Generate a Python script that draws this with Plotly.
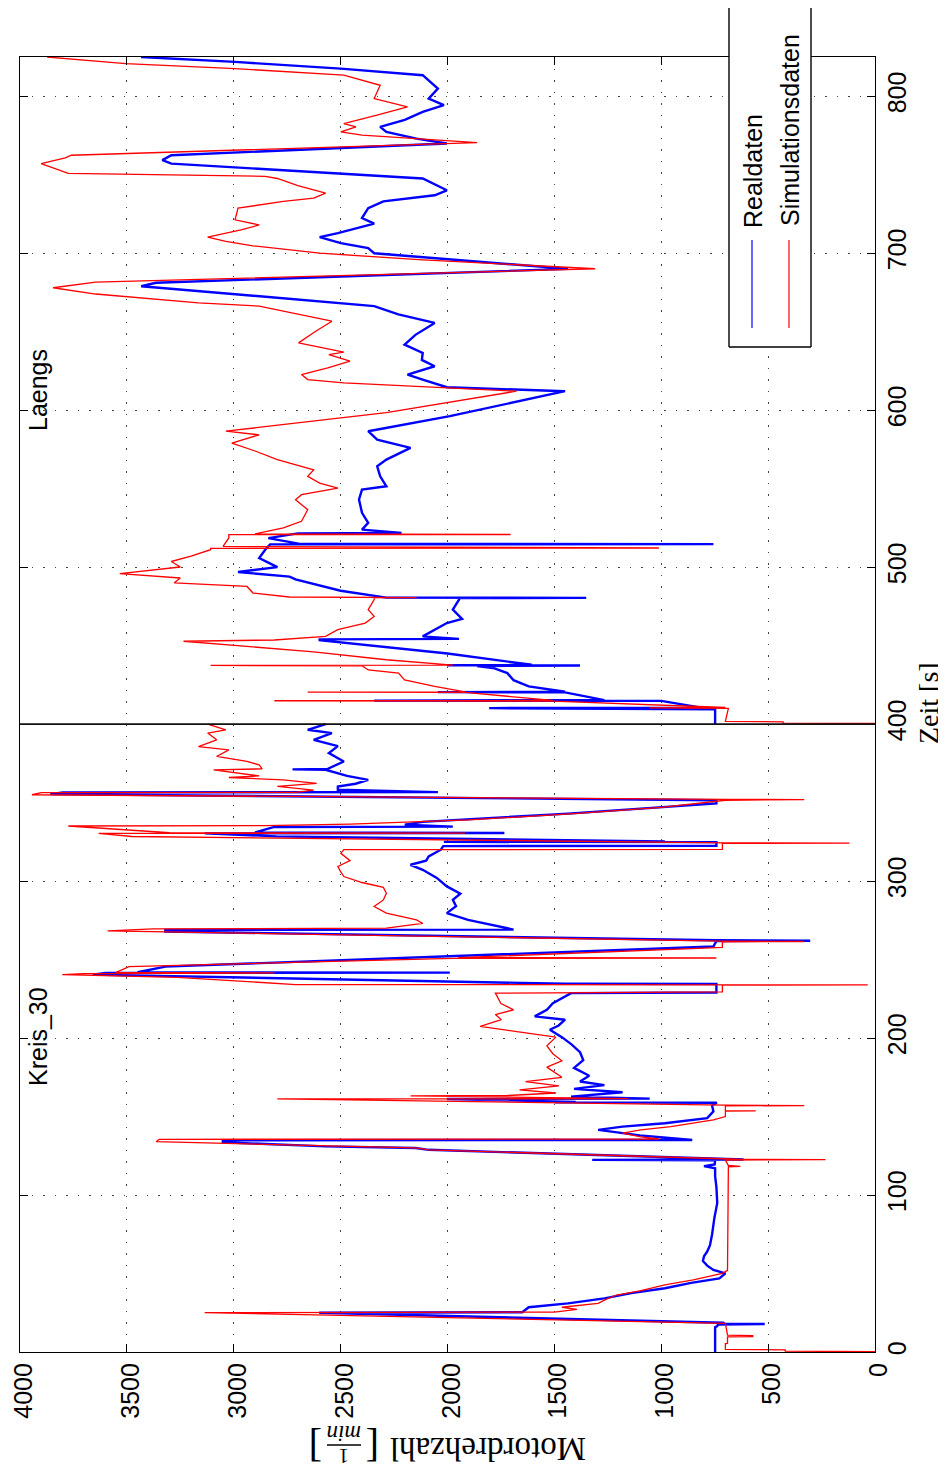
import plotly.graph_objects as go

# ---------------- data ----------------
rpm_ticks = [0, 500, 1000, 1500, 2000, 2500, 3000, 3500, 4000]
time_ticks = [0, 100, 200, 300, 400, 500, 600, 700, 800]

t_real = [0, 15.8, 16.5, 17.5, 17.8, 18.1, 18.6, 25.0, 25.3, 28.5, 31.0, 34.2, 37.5, 40.6, 44.0, 46.9, 50.1,
          52.3, 55.0, 58.0, 61.0, 64.0, 68.0, 75.0, 85.0, 95.0, 105.0, 112.0, 117.0, 118.4, 119.5, 122.2,
          122.4, 122.6, 128.8, 130.0, 131.0, 133.6, 134.9, 135.1, 138.0, 141.5, 143.6, 145.7, 149.0, 153.3,
          157.0, 158.8, 159.0, 159.3, 161.2, 161.4, 162.7, 165.5, 167.6, 170.0, 172.3, 176.0, 181.0, 186.0,
          191.0, 196.0, 200.6, 205.3, 208.0, 211.7, 213.8, 218.0, 222.2, 228.6, 229.0, 234.4, 234.6, 240.4,
          241.5, 241.7, 241.9, 245.5, 258.3, 261.8, 262.0, 262.3, 267.9, 268.9, 269.1, 275.3, 279.6, 284.0,
          288.1, 292.0, 296.6, 302.0, 307.2, 310.4, 313.0, 315.7, 320.0, 322.3, 322.5, 324.8, 325.0, 325.2,
          328.5, 330.4, 330.6, 331.0, 334.5, 334.7, 336.0, 337.7, 343.0, 349.5, 351.5, 355.4, 356.5, 356.7,
          358.2, 360.3, 362.0, 364.5, 367.0, 370.9, 371.2, 371.5, 376.2, 381.5, 386.0, 390.0, 394.3, 396.4,
          400.0,
          None,
          400.1, 409.5, 410.2, 410.5, 414.8, 415.0, 415.3, 420.2, 420.4, 420.6, 424.0, 428.0, 432.5, 435.5,
          437.0, 437.3, 437.5, 437.8, 445.0, 451.0, 453.5, 454.0, 454.3, 455.9, 460.2, 464.4, 467.0, 472.9,
          479.3, 480.3, 480.4, 480.6, 485.0, 492.2, 494.0, 496.9, 500.0, 505.8, 511.1, 514.5, 514.7, 515.0,
          518.5, 521.5, 521.8, 523.9, 528.2, 534.6, 543.1, 549.4, 551.5, 557.9, 564.3, 568.5, 576.0, 581.3,
          586.6, 596.2, 612.1, 614.6, 619.5, 622.7, 628.0, 632.0, 636.5, 641.8, 648.0, 655.6, 661.0, 666.3,
          679.0, 681.2, 690.0, 700.0, 703.2, 706.4, 710.2, 712.8, 718.8, 722.4, 728.7, 733.0, 736.9, 740.1,
          747.6, 757.1, 759.3, 762.4, 769.9, 773.0, 777.3, 780.5, 785.0, 790.0, 794.3, 798.5, 804.9, 813.4,
          817.6, 821.9, 825.0]

n_real = [748, 748, 738, 735, 516, 705, 710, 2600, 1650, 1620, 1436, 1266, 1140, 983, 860, 728, 700,
          756, 785, 805, 800, 785, 772, 762, 752, 738, 742, 748, 748, 800, 750, 748,
          1323, 615, 2088, 2150, 2570, 3051, 3051, 855, 1100, 1295, 1181, 983, 785, 756,
          762, 740, 1499, 1400, 2003, 1054, 1422, 1181, 1408, 1266, 1380, 1337, 1408, 1365,
          1380, 1420, 1465, 1521, 1480, 1450, 1592, 1535, 1507, 1422, 742, 742, 1450, 3660,
          3600, 1989, 3450, 3320, 756, 742, 303, 742, 3320, 3320, 1691, 1904, 2003, 1960,
          1975, 1940, 2003, 2050, 2116, 2173, 2100, 2088, 2031, 2020, 742, 742, 2017, 983,
          2800, 3136, 1734, 2900, 2810, 1975, 2200, 2116, 1436, 742, 742, 3858, 3800, 2045,
          2513, 2513, 2430, 2371, 2470, 2570, 2725, 2560, 2485, 2555, 2513, 2626, 2541, 2654,
          2570,
          None,
          748, 748, 1805, 813, 1000, 2343, 1266, 1450, 2045, 1450, 1620, 1691, 1720, 1780,
          1861, 1380, 2003, 1606, 2000, 2400, 2598, 2598, 1946, 2116, 2060, 2003, 1932, 1975,
          1946, 1946, 1351, 2286, 2500, 2711, 2739, 2980, 2796, 2881, 2853, 2830, 756, 2697,
          2838, 2700, 2215, 2400, 2371, 2400, 2414, 2400, 2286, 2315, 2329, 2286, 2173, 2329,
          2371, 1989, 1450, 2003, 2116, 2187, 2060, 2120, 2116, 2201, 2150, 2060, 2230, 2343,
          3433, 3363, 1436, 2343, 2371, 2499, 2598, 2513, 2343, 2400, 2371, 2300, 2060, 2003,
          2116, 3292, 3334, 3292, 2003, 2145, 2286, 2315, 2200, 2116, 2017, 2088, 2045, 2116,
          2499, 2994, 3434]

t_sim = [0, 0.3, 0.5, 1.4, 1.7, 5.3, 5.5, 9.6, 9.8, 10.5, 10.7, 18.3, 25.1, 25.4, 27.1, 28.5, 31.0, 33.0,
         36.3, 39.0, 42.7, 46.0, 50.1, 52.0, 118.0, 118.3, 118.8, 122.3, 122.5, 122.8, 128.8, 130.0, 134.0,
         135.5, 135.7, 137.0, 139.4, 141.5, 143.6, 147.9, 150.0, 153.5, 153.6, 153.8, 156.8, 157.0, 157.3,
         161.2, 161.4, 163.2, 163.4, 165.0, 167.0, 169.5, 172.3, 175.0, 181.5, 185.5, 190.0, 195.0, 200.6,
         207.4, 211.7, 215.0, 218.0, 222.0, 228.6, 229.4, 233.7, 233.9, 234.1, 238.7, 240.4, 241.0, 241.5,
         241.8, 245.5, 250.8, 251.0, 251.2, 257.7, 261.3, 261.5, 261.8, 268.3, 269.5, 270.0, 273.0, 275.3,
         279.6, 283.8, 288.0, 292.3, 296.0, 299.1, 302.9, 306.0, 309.3, 313.0, 317.7, 320.0, 320.2, 324.0,
         324.2, 324.4, 328.4, 330.4, 330.6, 330.8, 335.1, 335.3, 336.3, 339.0, 343.0, 347.0, 351.5, 351.9,
         352.1, 355.0, 356.3, 356.5, 357.9, 360.3, 362.2, 364.5, 366.0, 367.0, 370.9, 371.5, 374.0, 376.2,
         379.4, 383.6, 385.7, 390.0, 394.3, 396.4, 400.0,
         None,
         400.05, 400.4, 400.6, 401.5, 401.8, 410.0, 410.3, 410.6, 414.7, 414.9, 415.1, 420.2, 420.4, 420.6,
         424.0, 428.1, 432.5, 434.5, 437.2, 437.4, 437.6, 441.0, 446.0, 449.0, 452.8, 453.6, 455.9, 460.2,
         464.4, 468.6, 472.9, 479.3, 480.4, 480.6, 481.0, 483.5, 487.7, 490.0, 493.1, 495.9, 500.1, 503.6,
         507.0, 511.1, 512.0, 512.2, 512.6, 513.2, 518.6, 520.7, 520.8, 521.2, 525.0, 529.2, 536.6, 543.0,
         546.2, 550.4, 553.6, 557.9, 562.0, 568.5, 574.0, 579.0, 584.3, 586.6, 598.4, 612.1, 617.4, 619.5,
         622.7, 627.0, 631.2, 635.4, 637.0, 642.9, 650.0, 656.7, 666.3, 668.4, 674.0, 678.0, 681.6, 690.1,
         695.8, 700.0, 704.7, 707.5, 710.2, 714.9, 718.0, 721.3, 728.7, 733.0, 735.1, 738.3, 743.0, 747.6,
         749.0, 750.9, 757.1, 760.7, 762.4, 770.5, 775.2, 777.3, 780.5, 782.6, 788.0, 793.2, 798.5, 807.0,
         813.4, 817.6, 820.8, 825.0]

n_sim = [0, 0, 420, 420, 700, 700, 690, 690, 572, 572, 690, 700, 3136, 1500, 1394, 1465, 1295, 1266,
         1210, 1100, 983, 850, 714, 690, 686, 630, 686, 700, 232, 640, 2088, 2150, 3363,
         3349, 1011, 1096, 1181, 1096, 955, 756, 700, 700, 558, 700, 700, 331, 700,
         2796, 1153, 2173, 1720, 1493, 1663, 1479, 1635, 1465, 1535, 1465, 1507, 1535, 1493,
         1847, 1748, 1776, 1691, 1750, 1776, 714, 714, 34, 2711, 3264, 3802, 3700, 2810,
         3550, 3490, 1975, 742, 1950, 714, 714, 331, 714, 3590, 3377, 2286, 2116, 2145,
         2286, 2343, 2300, 2286, 2300, 2400, 2485, 2500, 2513, 2456, 2499, 2485, 714, 714,
         119, 700, 3476, 3632, 1918, 3300, 3774, 2853, 2456, 1900, 1408, 1000, 700, 331,
         700, 3944, 3900, 2711, 2626, 2796, 2612, 2768, 3023, 2881, 3094, 2867, 2881, 2938,
         3080, 3023, 3165, 3080, 3122, 3037, 3122,
         None,
         0, 0, 430, 430, 700, 686, 1054, 700, 1507, 2810, 1507, 1918, 2654, 1918,
         2060, 2201, 2229, 2371, 2400, 3108, 1975, 2286, 2626, 2910, 3235, 2810, 2570, 2513,
         2385, 2343, 2371, 2343, 2343, 2145, 2740, 2910, 2938, 3278, 3250, 3533, 3250, 3292,
         3200, 3108, 3108, 1011, 1833, 3050, 3023, 3023, 1705, 2900, 2768, 2683, 2654, 2711,
         2683, 2513, 2598, 2654, 2626, 2796, 2900, 3009, 2881, 3037, 2286, 1677, 2485, 2654,
         2683, 2560, 2456, 2555, 2485, 2697, 2620, 2541, 2881, 3165, 3646, 3845, 3646, 1309,
         2116, 2598, 2910, 3037, 3122, 2966, 2881, 2994, 2980, 2768, 2626, 2570, 2700, 2796,
         2853, 3774, 3901, 3788, 3760, 1861, 2400, 2499, 2428, 2485, 2330, 2187, 2343, 2315,
         2485, 2994, 3505, 3873]

separator_time = 400
legend_labels = ["Realdaten", "Simulationsdaten"]
maneuver_labels = ["Kreis_30", "Laengs"]

# ---------------- figure ----------------
# The page body adds an 8px offset; positions below are given in window pixels.
OFF = 8
W, H = 946 - OFF, 1470 - OFF
L, R, T, B = 20, 875, 57, 1352  # plot area in window pixels


def px(x):
    return (x - L) / (R - L)


def py(y):
    return (B - y) / (B - T)


BLUE = "#0000ff"
RED = "#ff0000"
SANS = "Liberation Sans, Arial, sans-serif"
SERIF = "Liberation Serif, Times New Roman, serif"

fig = go.Figure()
fig.add_trace(go.Scatter(x=n_real, y=t_real, mode="lines", line=dict(color=BLUE, width=2.4),
                         connectgaps=False, name=legend_labels[0], showlegend=False))
fig.add_trace(go.Scatter(x=n_sim, y=t_sim, mode="lines", line=dict(color=RED, width=1.3),
                         connectgaps=False, name=legend_labels[1], showlegend=False))

axis_common = dict(
    showline=True, linecolor="black", linewidth=1.3, mirror="ticks",
    ticks="inside", ticklen=8, tickwidth=1, tickcolor="black",
    showgrid=True, gridcolor="#444", gridwidth=1, griddash="1.5px,10px",
    zeroline=False, tickangle=-90, automargin=False, ticklabeloverflow="allow",
    tickfont=dict(family=SANS, size=25, color="black"),
)

fig.update_layout(
    width=W, height=H,
    margin=dict(l=L - OFF, r=W - (R - OFF), t=T - OFF, b=H - (B - OFF), pad=0, autoexpand=False),
    paper_bgcolor="white", plot_bgcolor="white",
    showlegend=False,
    xaxis=dict(range=[4000, 0], tickvals=rpm_ticks, ticktext=[str(v) for v in rpm_ticks],
               ticklabelstandoff=0, ticklabelshift=-4, **axis_common),
    yaxis=dict(range=[0, 825], tickvals=time_ticks, ticktext=[str(v) for v in time_ticks],
               side="right", ticklabelstandoff=0, **axis_common),
)

shapes = []
# separator between the two manoeuvres
shapes.append(dict(type="line", xref="x", yref="y", x0=0, x1=4000, y0=separator_time, y1=separator_time,
                   line=dict(color="#111", width=1.6), layer="above"))
# legend box (white background, left/right/bottom edges)
lx0, lx1, ly0, ly1 = px(729), px(811), py(347), py(8)
shapes.append(dict(type="rect", xref="paper", yref="paper", x0=lx0, x1=lx1, y0=ly0, y1=ly1,
                   fillcolor="white", line=dict(width=0), layer="above"))
for (a, b, c, d) in [(lx0, lx0, ly0, ly1), (lx1, lx1, ly0, ly1), (lx0, lx1, ly0, ly0)]:
    shapes.append(dict(type="line", xref="paper", yref="paper", x0=a, x1=b, y0=c, y1=d,
                       line=dict(color="black", width=1.4), layer="above"))
# legend sample lines
shapes.append(dict(type="line", xref="paper", yref="paper", x0=px(752), x1=px(752), y0=py(328), y1=py(240),
                   line=dict(color=BLUE, width=1.2), layer="above"))
shapes.append(dict(type="line", xref="paper", yref="paper", x0=px(789), x1=px(789), y0=py(328), y1=py(240),
                   line=dict(color=RED, width=1.2), layer="above"))
# fraction bar of the unit
shapes.append(dict(type="line", xref="paper", yref="paper", x0=px(327), x1=px(361), y0=py(1445), y1=py(1445),
                   line=dict(color="black", width=1.3)))
fig.update_layout(shapes=shapes)

ann = []


def add_text(text, x, y, size, family=SANS, angle=-90, xa="center", ya="middle"):
    ann.append(dict(text=text, x=px(x), y=py(y), xref="paper", yref="paper", showarrow=False,
                    textangle=angle, xanchor=xa, yanchor=ya, borderpad=0,
                    font=dict(family=family, size=size, color="black")))


add_text(legend_labels[0], 753, 171, 25)
add_text(legend_labels[1], 790, 130, 25)
add_text(maneuver_labels[0], 38, 1037, 25)
add_text(maneuver_labels[1], 38, 390, 25)
add_text("Zeit [s]", 928, 703, 28, family=SERIF)
add_text("Motordrehzahl", 488, 1449, 33, family=SERIF, angle=180)
add_text("[", 373, 1447, 40, family=SERIF, angle=180)
add_text("]", 316, 1447, 40, family=SERIF, angle=180)
add_text("1", 344, 1456, 21, family=SERIF, angle=180)
add_text("<i>min</i>", 344, 1434, 23, family=SERIF, angle=180)
fig.update_layout(annotations=ann)

fig.write_html("out.html")
